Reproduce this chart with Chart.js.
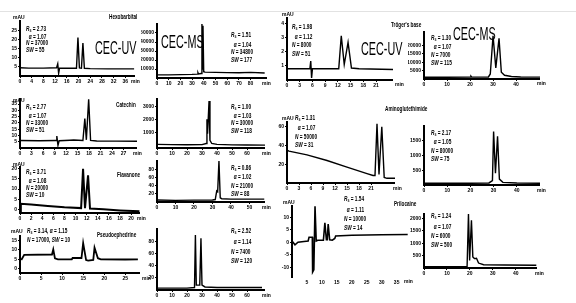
<!DOCTYPE html>
<html>
<head>
<meta charset="utf-8">
<script src="https://cdn.jsdelivr.net/npm/chart.js@4.4.1/dist/chart.umd.min.js"></script>
<style>
  body { margin: 0; background: #fff; }
  #wrap { position: relative; width: 576px; height: 303px; overflow: hidden; background: #fff; }
  .t { position: absolute; font-family: 'Liberation Sans', Arial, sans-serif; font-weight: bold; color: #000; white-space: nowrap; transform-origin: 0 0; }
  .st { font-size: 7px; transform: scaleX(0.68); }
  .st span.s { font-size: 0.75em; vertical-align: -1px; }
  .nm { font-size: 6.5px; transform: scaleX(0.72); }
  .u { font-size: 5px; }
  .big { font-weight: normal; font-size: 18px; line-height: 18px; transform: scaleX(0.6); }
  #rule { position: absolute; left: 0; top: 11px; width: 576px; height: 1px; background: #e2e2e2; }
</style>
</head>
<body>
<div id="wrap"><div id="rule"></div></div>
<script>
// ---- data (retention time in min / detector signal) ----
const hexUvT = [0, 3, 8, 12.5, 12.9, 13.2, 13.5, 16, 19.3, 19.8, 20.3, 21, 21.5, 22, 24, 30, 39];
const hexUvY = [4.5, 4.3, 4.3, 4.5, 6.6, 1.5, 4.2, 4.3, 4.2, 21, 4.4, 4.3, 18, 4.2, 4.0, 3.9, 3.9];
const hexMsT = [0, 10, 20, 30, 34.5, 35, 35.5, 37.8, 38.4, 38.9, 39.3, 39.9, 41, 50, 60, 70, 80, 92];
const hexMsY = [3500, 3500, 3800, 4000, 4300, 6000, 4500, 5000, 60000, 10000, 58000, 7000, 6500, 6200, 6000, 5800, 6200, 5500];

const trUvT = [0, 5.4, 5.6, 5.8, 6.0, 12.2, 12.8, 13.5, 14.4, 15.2, 17, 25];
const trUvY = [0.8, 0.8, 1.35, 0.15, 0.8, 0.8, 3.13, 1.1, 2.67, 0.85, 0.8, 0.75];
const trMsT = [0, 10, 20, 20.4, 20.8, 28, 28.8, 30, 31.2, 32.6, 33.6, 35, 38, 42, 50.4];
const trMsY = [1000, 1000, 1100, 1700, 1100, 1200, 3000, 25800, 6600, 24200, 4000, 2200, 1500, 1200, 1100];

const catUvT = [0, 5, 9.4, 9.6, 9.9, 10.2, 13, 14, 16.4, 16.9, 17.3, 17.9, 18.4, 20, 25, 30.5];
const catUvY = [6, 5.8, 6, 9.5, 2.2, 5.8, 6.2, 6.4, 6, 23.4, 6.5, 38.7, 6, 5.6, 5.5, 5.4];
const catMsT = [0, 10, 20, 30, 32.8, 33.3, 33.7, 34.7, 35.3, 36.5, 40, 50, 60, 72];
const catMsY = [80, 60, 50, 60, 150, 2030, 900, 3450, 400, 150, 80, 40, 30, 20];

const amiUvT = [0, 0.5, 5, 10, 15, 20, 21.5, 22, 22.5, 23, 23.7, 24.3, 25, 27];
const amiUvY = [35, 34, 30, 24, 17, 10, 8, 8, 63, 9, 60, 6, 5, 5];
const amiMsT = [0, 10, 20, 28, 29.5, 30, 30.8, 31.7, 32.5, 34, 40, 50];
const amiMsY = [60, 60, 60, 70, 150, 1820, 400, 1660, 200, 90, 70, 60];

const flaUvT = [0, 0.15, 2, 5, 8, 11, 11.35, 11.7, 12.25, 12.6, 15, 18, 21.5];
const flaUvY = [-1.5, 2.9, 2.5, 1.8, 1.2, 0.8, 19.7, 0.8, 16.6, 0.6, 0.2, -0.3, -0.7];
const flaMsT = [0, 10, 20, 30, 31.5, 32.3, 32.8, 33.5, 34.2, 35, 40, 50, 58];
const flaMsY = [5, 4, 4.5, 5, 6, 27, 25, 100, 10, 8, 7, 7, 7];

const psUvT = [0.3, 1, 7.6, 7.9, 8.3, 9, 12.3, 12.5, 14.6, 15.0, 15.7, 16.2, 17.4, 17.7, 18.5, 19.2, 25, 28];
const psUvY = [4.5, 7.3, 7.5, 10.2, 5.4, 4.9, 4.9, 5.6, 5.6, 13.7, 4.5, 4.2, 4.6, 11.2, 5.5, 4.9, 4.8, 4.9];
const psMsT = [0, 10, 20, 25, 25.6, 26.2, 28.5, 29.3, 30, 32, 40, 50, 70];
const psMsY = [3, 3, 3, 4, 90, 8, 8, 85, 8, 5, 4, 4, 4];

const priUvT = [0, 1, 2, 4, 5.4, 5.7, 6.8, 6.9, 7.3, 7.7, 8.1, 8.6, 10.5, 11, 11.5, 11.8, 12.1, 12.6, 13.5, 14.3, 14.6, 20, 30, 38.7];
const priUvY = [0.5, -1, 0, 0.3, 0.5, 2, 2, -11.9, -11, 14.4, 0.5, 0.8, 0.8, 7.8, 1, 1, 7.3, 1, 0.8, 1.5, 2.5, 2.8, 3, 3.1];
const priMsT = [0, 10, 18.8, 19.4, 19.9, 20.7, 21.3, 22, 22.9, 23.8, 26, 35, 49];
const priMsY = [50, 50, 60, 2180, 300, 1925, 450, 380, 390, 200, 130, 120, 110];

// tick labels
const xt36 = [0, 4, 8, 12, 16, 20, 24, 28, 32, 36];
const xt80 = [0, 10, 20, 30, 40, 50, 60, 70, 80];
const xt21 = [0, 3, 6, 9, 12, 15, 18, 21];
const xt27 = [0, 3, 6, 9, 12, 15, 18, 21, 24, 27];
const xt40 = [0, 10, 20, 30, 40];
const xt60 = [0, 10, 20, 30, 40, 50, 60];
const xt50 = [0, 10, 20, 30, 40, 50];
const xt20 = [0, 2, 4, 6, 8, 10, 12, 14, 16, 18, 20];
const xt25 = [0, 5, 10, 15, 20, 25];
const xt35 = [5, 10, 15, 20, 25, 30, 35];

// Rs, alpha, N, SW
const hexUvStat = ['2.73', '1.07', '37000', '55'];
const hexMsStat = ['1.51', '1.04', '34800', '177'];
const trUvStat = ['1.98', '1.12', '8000', '51'];
const trMsStat = ['1.30', '1.07', '7000', '115'];
const catUvStat = ['2.77', '1.07', '33000', '51'];
const catMsStat = ['1.00', '1.03', '30000', '118'];
const amiUvStat = ['1.31', '1.07', '50000', '31'];
const amiMsStat = ['2.17', '1.05', '80000', '75'];
const flaUvStat = ['3.71', '1.08', '20000', '10'];
const flaMsStat = ['0.86', '1.02', '21000', '88'];
const psUvStat = ['3.14', '1.15', '17000', '10'];
const psMsStat = ['2.52', '1.14', '7400', '120'];
const priUvStat = ['1.54', '1.11', '10000', '14'];
const priMsStat = ['1.24', '1.07', '6000', '500'];

// ---- layout ----
const wrap = document.getElementById('wrap');
const YW = 16, XH = 9;
const FONT = "'Liberation Sans', Arial, sans-serif";

function txt(x, y, html, cls, extra) {
    const d = document.createElement('div');
    d.className = 't ' + cls;
    d.style.left = x + 'px';
    d.style.top = y + 'px';
    if (extra) d.style.cssText += extra;
    d.innerHTML = html;
    wrap.appendChild(d);
}

function stat(x, y, lh, s, oneLine) {
    const rs = `<i>R</i><span class="s">s</span> = ${s[0]}`;
    const al = `<i>α</i> = ${s[1]}`;
    const n = `<i>N</i> = ${s[2]}`;
    const sw = `<i>SW</i> = ${s[3]}`;
    let html;
    if (oneLine) html = `${rs}, ${al}<br>${n}, ${sw}`;
    else html = `${rs}<br>&nbsp;&nbsp;${al}<br>${n}<br>${sw}`;
    txt(x, y, html, 'st', `line-height:${lh}px`);
}

function panel(p) {
    const [ax, ay, ex, ty] = p.box;
    const c = document.createElement('canvas');
    const w = ex - ax + YW, h = ay - ty + XH;
    c.width = w; c.height = h;
    c.style.cssText = `position:absolute;left:${ax - YW}px;top:${ty}px`;
    wrap.appendChild(c);
    const pts = p.t.map((t, i) => ({ x: t, y: p.v[i] }));
    const tickFont = { family: FONT, size: 5, weight: 'bold' };
    new Chart(c, {
        type: 'scatter',
        data: { datasets: [{ data: pts, showLine: true, borderColor: '#000', borderWidth: p.lw || 1.4, pointRadius: 0, tension: 0 }] },
        options: {
            animation: false,
            responsive: false,
            layout: { padding: 0 },
            plugins: { legend: { display: false }, tooltip: { enabled: false } },
            scales: {
                x: {
                    type: 'linear', min: p.x[0], max: p.x[1],
                    afterBuildTicks: s => { s.ticks = p.xt.map(v => ({ value: v })) },
                    afterFit: s => { s.height = XH },
                    ticks: { font: tickFont, color: '#000', padding: 1, maxRotation: 0, autoSkip: false, callback: v => String(v) },
                    grid: { display: !p.noX, drawOnChartArea: false, color: '#000', tickLength: 2 },
                    border: { display: !p.noX, color: '#000', width: 2 }
                },
                y: {
                    type: 'linear', min: p.y[0], max: p.y[1],
                    afterBuildTicks: s => { s.ticks = p.yt.map(v => ({ value: v })) },
                    afterFit: s => { s.width = YW },
                    ticks: { font: tickFont, color: '#000', padding: 1, autoSkip: false, callback: v => String(v) },
                    grid: { drawOnChartArea: false, color: '#000', tickLength: 2 },
                    border: { color: '#000', width: 2 }
                }
            }
        }
    });
}

// box = [y-axis x, x-axis y, axis end x, top y]
panel({ t: hexUvT, v: hexUvY, box: [20, 76, 135, 17], x: [0, 39.3], xt: xt36, y: [0, 30], yt: [5, 10, 15, 20, 25] });
panel({ t: hexMsT, v: hexMsY, box: [157, 78, 267, 20], x: [0, 94], xt: xt80, y: [0, 60000], yt: [10000, 20000, 30000, 40000, 50000] });
panel({ t: trUvT, v: trUvY, box: [287, 80, 393, 14], x: [0, 25], xt: xt21, y: [0, 4.4], yt: [1, 2, 3, 4] });
panel({ t: trMsT, v: trMsY, box: [424, 79, 540, 28], x: [0, 50.4], xt: xt40, y: [0, 28000], yt: [5000, 10000, 15000, 20000] });
panel({ t: catUvT, v: catUvY, box: [20, 148, 137, 95], x: [0, 30.5], xt: xt27, y: [0, 39], yt: [5, 10, 15, 20, 25, 30, 35] });
panel({ t: catMsT, v: catMsY, box: [157, 148, 265, 95], x: [0, 72], xt: xt60, y: [-200, 3600], yt: [1000, 2000, 3000] });
panel({ t: amiUvT, v: amiUvY, box: [287, 183, 395, 118], x: [0, 27], xt: xt21, y: [0, 65], yt: [20, 40, 60] });
panel({ t: amiMsT, v: amiMsY, box: [424, 185, 540, 122], x: [0, 50], xt: xt40, y: [0, 2010], yt: [500, 1000, 1500] });
panel({ t: flaUvT, v: flaUvY, box: [20, 213, 140, 163], x: [0, 21.6], xt: xt20, y: [-1.55, 20.6], yt: [0, 5, 10, 15, 20], lw: 2 });
panel({ t: flaMsT, v: flaMsY, box: [157, 202, 265, 157], x: [0, 58.4], xt: xt50, y: [0, 100], yt: [20, 40, 60, 80] });
panel({ t: psUvT, v: psUvY, box: [20, 273, 140, 232], x: [0, 28.5], xt: xt25, y: [-2.5, 17.5], yt: [0, 5, 10, 15], lw: 1.8 });
panel({ t: psMsT, v: psMsY, box: [157, 290, 265, 225], x: [0, 72], xt: xt60, y: [0, 100], yt: [20, 40, 60, 80] });
panel({ t: priUvT, v: priUvY, box: [292, 277, 408, 202], x: [0, 38.8], xt: xt35, y: [-13.9, 14.5], yt: [-10, -5, 0, 5, 10], noX: true, lw: 1.6 });
panel({ t: priMsT, v: priMsY, box: [424, 268, 537, 210], x: [0, 49.3], xt: xt40, y: [0, 2180], yt: [500, 1000, 1500, 2000] });

// statistics
stat(26, 26, 6.5, hexUvStat);
stat(231, 31, 7.5, hexMsStat);
stat(292, 23, 8.5, trUvStat);
stat(431, 34, 8, trMsStat);
stat(26, 103, 7, catUvStat);
stat(231, 103, 7.2, catMsStat);
stat(295, 114, 8.8, amiUvStat);
stat(431, 129, 8.3, amiMsStat);
stat(26, 168, 7, flaUvStat);
stat(231, 164, 8.3, flaMsStat);
stat(27, 227, 8, psUvStat, true);
stat(231, 226, 9.3, psMsStat);
stat(344, 194, 9, priUvStat);
stat(431, 211, 9, priMsStat);

// compound names
txt(109, 13, 'Hexobarbital', 'nm');
txt(116, 101, 'Catechin', 'nm');
txt(117, 171, 'Flavanone', 'nm');
txt(97, 231, 'Pseudoephedrine', 'nm');
txt(391, 21, 'Tröger\'s base', 'nm');
txt(385, 105, 'Aminoglutethimide', 'nm');
txt(394, 200, 'Prilocaine', 'nm');

// technique labels
txt(95, 39, 'CEC-UV', 'big');
txt(161, 33, 'CEC-MS', 'big');
txt(361, 40, 'CEC-UV', 'big');
txt(453, 25, 'CEC-MS', 'big');

// axis units
[[13, 14], [13, 97], [13, 161], [11, 228], [282, 11], [282, 115], [283, 199]].forEach(a => txt(a[0], a[1], 'mAU', 'u'));
[[131, 78], [262, 80], [395, 81], [537, 80], [133, 150], [262, 150], [393, 185], [537, 187], [137, 215], [262, 204], [142, 275], [262, 292], [404, 278], [535, 270]].forEach(a => txt(a[0], a[1], 'min', 'u'));
</script>
</body>
</html>
